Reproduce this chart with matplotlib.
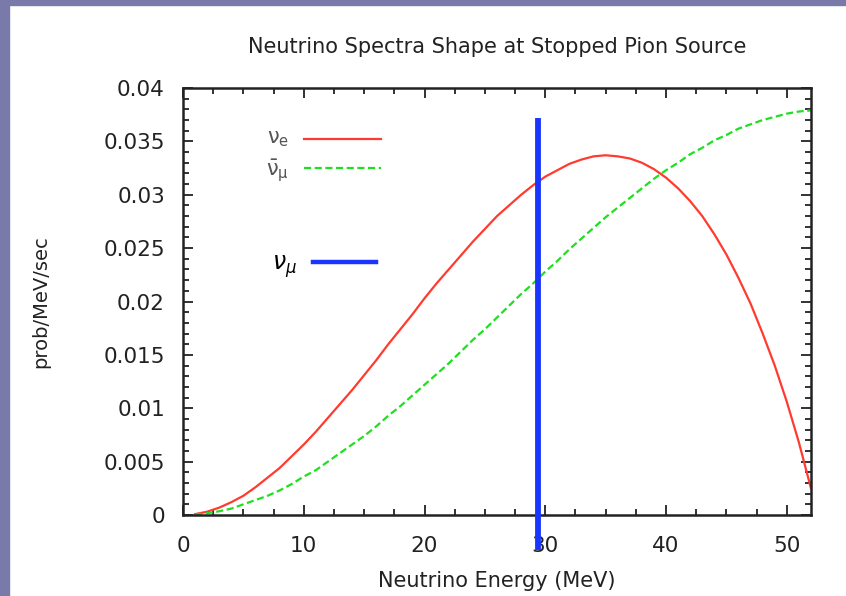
import matplotlib
matplotlib.use("Agg")
from matplotlib import pyplot as plt
from matplotlib.ticker import MultipleLocator
from matplotlib.patches import Rectangle

# Neutrino energy (MeV) and spectra
energy = [1, 2, 3, 4, 5, 6, 7, 8, 9, 10, 11, 12, 13, 14, 15, 16, 17, 18,
          19, 20, 21, 22, 23, 24, 25, 26, 27, 28, 29, 30, 31, 32, 33, 34,
          35, 36, 37, 38, 39, 40, 41, 42, 43, 44, 45, 46, 47, 48, 49, 50,
          51, 52]
nu_e = [0.00008, 0.00031, 0.00069, 0.0012, 0.0018, 0.0026, 0.0035, 0.0044,
        0.0055, 0.0066, 0.0078, 0.0091, 0.0104, 0.0117, 0.0131, 0.0145,
        0.0160, 0.0174, 0.0188, 0.0203, 0.0217, 0.0230, 0.0243, 0.0256,
        0.0268, 0.0280, 0.0290, 0.0300, 0.0309, 0.0317, 0.0323, 0.0329,
        0.0333, 0.0336, 0.0337, 0.0336, 0.0334, 0.0330, 0.0324, 0.0316,
        0.0306, 0.0294, 0.0280, 0.0263, 0.0244, 0.0222, 0.0198, 0.0170,
        0.0140, 0.0106, 0.0068, 0.0025]
nu_mubar = [0.00004, 0.00016, 0.00035, 0.0006, 0.0010, 0.0014, 0.0018,
            0.0023, 0.0029, 0.0036, 0.0042, 0.0050, 0.0058, 0.0066, 0.0074,
            0.0083, 0.0093, 0.0102, 0.0112, 0.0122, 0.0132, 0.0142, 0.0153,
            0.0164, 0.0174, 0.0185, 0.0196, 0.0207, 0.0217, 0.0228, 0.0238,
            0.0249, 0.0259, 0.0269, 0.0279, 0.0288, 0.0297, 0.0306, 0.0315,
            0.0323, 0.0330, 0.0338, 0.0344, 0.0351, 0.0356, 0.0362, 0.0366,
            0.0370, 0.0373, 0.0376, 0.0378, 0.0379]
# nu_mu is monoenergetic (pion decay at rest)
nu_mu_energy = 29.4
nu_mu_range = [-0.0033, 0.0372]

plt.rcParams['font.family'] = ['DejaVu Sans']

fig = plt.figure(figsize=(8.46, 5.96), dpi=100)
fig.patches.append(Rectangle((0, 1 - 5 / 596), 1, 5 / 596, transform=fig.transFigure,
                             color="#7a7aaa", zorder=0))
fig.patches.append(Rectangle((0, 0), 9 / 846, 1, transform=fig.transFigure,
                             color="#7a7aaa", zorder=0))

ax = fig.add_axes([0.2163, 0.1359, 0.7423, 0.7164])

ax.plot(energy, nu_e, color="#ff3b2f", lw=1.6)
ax.plot(energy, nu_mubar, color="#1fe01f", lw=1.6, ls=(0, (3.2, 1.6)))
ax.plot([nu_mu_energy, nu_mu_energy], nu_mu_range, color="#1a35ff",
        lw=4.2, solid_capstyle="butt", clip_on=False, zorder=5)

ax.set_xlim(0, 52)
ax.set_ylim(0, 0.04)
ax.xaxis.set_major_locator(MultipleLocator(10))
ax.xaxis.set_minor_locator(MultipleLocator(2.5))
ax.yaxis.set_major_locator(MultipleLocator(0.005))
ax.yaxis.set_minor_locator(MultipleLocator(0.001))
ax.set_yticks([0, 0.005, 0.01, 0.015, 0.02, 0.025, 0.03, 0.035, 0.04])
ax.set_yticklabels(["0", "0.005", "0.01", "0.015", "0.02", "0.025", "0.03", "0.035", "0.04"])
ax.tick_params(which="both", direction="in", top=True, right=True,
               labelsize=15.5, colors="#222222", width=1.3)
ax.tick_params(axis="y", pad=13)
ax.tick_params(axis="x", pad=15)
ax.tick_params(which="major", length=7)
ax.tick_params(which="minor", length=4)
for s in ax.spines.values():
    s.set_linewidth(1.8)
    s.set_color("#222222")

ax.set_title("Neutrino Spectra Shape at Stopped Pion Source", fontsize=15,
             color="#222222", pad=25)
ax.set_xlabel("Neutrino Energy (MeV)", fontsize=15, color="#222222", labelpad=11)
ax.set_ylabel("prob/MeV/sec", fontsize=14, color="#222222", labelpad=38)

# key, drawn the way the original shows it
ax.plot([10, 16.4], [0.0352, 0.0352], color="#ff3b2f", lw=1.6)
ax.plot([10, 16.4], [0.0325, 0.0325], color="#1fe01f", lw=1.6, ls=(0, (3.2, 1.6)))
ax.text(8.8, 0.0352, r"$\mathregular{\nu_e}$", fontsize=15, color="#555555",
        ha="right", va="center")
ax.text(8.8, 0.0322, r"$\mathregular{\bar{\nu}_\mu}$", fontsize=15, color="#555555",
        ha="right", va="center")
ax.plot([10.8, 16.0], [0.0237, 0.0237], color="#1a35ff", lw=3.2)
ax.text(9.4, 0.0233, r"$\nu_\mu$", fontsize=17, color="black",
        ha="right", va="center")

fig.savefig("out.png", dpi=100)
